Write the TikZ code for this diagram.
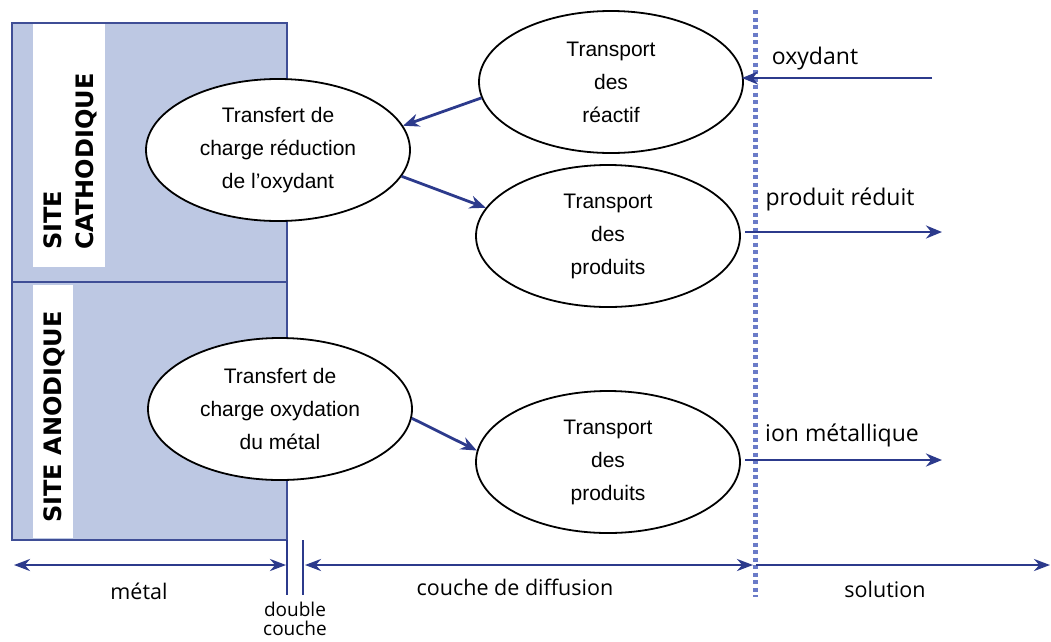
\documentclass[tikz,border=0pt]{standalone}
\usepackage{fontspec}
\setmainfont{Liberation Sans}
\newfontfamily\lblfont{Open Sans}
\newfontfamily\sitefont{DejaVu Sans}
\usepackage{xcolor}
\usetikzlibrary{arrows.meta,shapes,calc,positioning}
\definecolor{metalblue}{HTML}{BDC8E3}
\definecolor{edgeblue}{HTML}{3F4E96}
\definecolor{navy}{HTML}{2C3A8C}
\definecolor{dotblue}{HTML}{6A7BC8}

\begin{document}
\begin{tikzpicture}[x=1pt,y=-1pt]
			\tikzstyle{every node}=[font=\fontsize{21}{33}\selectfont]
			\tikzstyle{etape}=[draw, ellipse, line width=1.8pt, fill=white, minimum width=264pt, minimum height=142pt, inner sep=0pt, align=center]
			\tikzstyle{flux}=[navy, line width=2.8pt, -{Stealth[length=16pt,width=13pt]}]
			\tikzstyle{axe}=[navy, line width=2.8pt]
			\tikzstyle{lbl}=[font=\lblfont\fontsize{23}{26}\selectfont]
			\tikzstyle{lblbas}=[font=\lblfont\fontsize{21.5}{18}\selectfont, align=center]
			\tikzstyle{site}=[font=\sitefont\bfseries\fontsize{24}{32}\selectfont, rotate=90, anchor=north west, inner sep=0pt, align=left]
			\useasboundingbox (0,0) rectangle (1051,641);
			% metal
			\draw [edgeblue, fill=metalblue, line width=1.8pt] (12,23) rectangle (287,540);
			\draw [edgeblue, line width=1.8pt] (12,282) -- (287,282);
			\fill [white] (33,24) rectangle (105,267);
			\fill [white] (33,285) rectangle (73,538);
			\node [site] (cathode) at (43,250) {SITE\\CATHODIQUE};
			\node [site] (anode) at (43,523) {SITE ANODIQUE};
			% limite couche de diffusion / solution
			\coordinate (dtop) at (755,10);
			\coordinate (dbot) at (755,597);
			\draw [dotblue, line width=5pt, dash pattern=on 4pt off 3.5pt] (dtop) -- (dbot);
			% etapes
			\node [etape] (tcred) at (278,150) {Transfert de\\charge réduction\\de l'oxydant};
			\node [etape] (treac) at (611,82) {Transport\\des\\réactif};
			\node [etape] (tprod) at (608,236) {Transport\\des\\produits};
			\node [etape] (tcox) at (280,409) {Transfert de\\charge oxydation\\du métal};
			\node [etape] (tprodb) at (608,462) {Transport\\des\\produits};
			\draw [flux] (treac.187) -- (tcred.11);
			\draw [flux] (tcred.-12) -- (tprod.167);
			\draw [flux] (tcox.-4) -- (tprodb.175);
			% especes en solution
			\coordinate (oxyin) at (932,78);
			\coordinate (oxyout) at (742,78);
			\coordinate (redin) at (745,232);
			\coordinate (redout) at (942,232);
			\coordinate (ionin) at (745,460);
			\coordinate (ionout) at (942,460);
			\draw [flux] (oxyin) -- (oxyout);
			\draw [flux] (redin) -- (redout);
			\draw [flux] (ionin) -- (ionout);
			\node [lbl] (oxy) at (815,59) {oxydant};
			\node [lbl] (red) at (840,199) {produit réduit};
			\node [lbl] (ion) at (842,435) {ion métallique};
			% zones
			\coordinate (m1) at (14,565);
			\coordinate (m2) at (286,565);
			\coordinate (c1) at (305,565);
			\coordinate (c2) at (753,565);
			\coordinate (s1) at (756,565);
			\coordinate (s2) at (1050,565);
			\coordinate (dc1) at (287,540);
			\coordinate (dc2) at (287,595);
			\coordinate (dc3) at (303,540);
			\coordinate (dc4) at (303,595);
			\draw [axe, {Stealth[length=16pt,width=12pt]}-{Stealth[length=16pt,width=12pt]}] (m1) -- (m2);
			\draw [axe, {Stealth[length=16pt,width=12pt]}-{Stealth[length=16pt,width=12pt]}] (c1) -- (c2);
			\draw [axe, -{Stealth[length=16pt,width=12pt]}] (s1) -- (s2);
			\draw [axe] (dc1) -- (dc2);
			\draw [axe] (dc3) -- (dc4);
			\node [lblbas] (metal) at (139,591) {métal};
			\node [lblbas, font=\lblfont\fontsize{19}{19}\selectfont, inner sep=0pt] (dcouche) at (295,619) {double\\couche};
			\node [lblbas] (diff) at (515,587) {couche de diffusion};
			\node [lblbas] (sol) at (885,589) {solution};
		\end{tikzpicture}
\end{document}
